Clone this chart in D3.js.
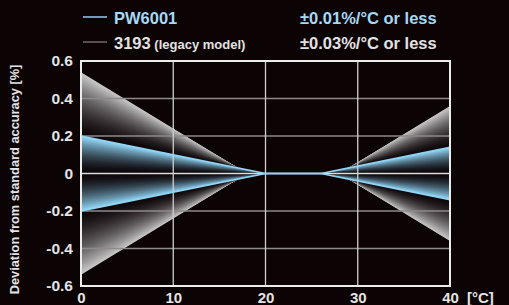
<!DOCTYPE html>
<html><head><meta charset="utf-8">
<script src="https://cdn.jsdelivr.net/npm/d3@7"></script>
<style>
html,body{margin:0;padding:0;background:#0c0305;}
svg{display:block;font-family:"Liberation Sans",Arial,sans-serif;font-weight:bold;}
</style></head>
<body>
<svg id="chart" width="509" height="305"></svg>
<script>
// ---- data ----
const xTicks = [0, 10, 20, 30, 40];
const yTicks = [-0.6, -0.4, -0.2, 0, 0.2, 0.4, 0.6];
const yTickLabels = ["-0.6", "-0.4", "-0.2", "0", "0.2", "0.4", "0.6"];
const temps = [0, 18, 20, 26, 28, 40];
const pw6001Dev = [0.20, 0.02, 0, 0, 0.02, 0.14];   // ±0.01%/°C
const legacyDev = [0.54, 0, 0, 0, 0, 0.36];          // ±0.03%/°C
const seriesNames = ["PW6001", "3193"];
const seriesNotes = ["±0.01%/°C or less", "±0.03%/°C or less"];

// ---- layout ----
const svg = d3.select("#chart");
const W = 509, H = 305;
const m = {left: 81, right: 450, top: 61, bottom: 286};
svg.append("rect").attr("width", W).attr("height", H).attr("fill", "#0c0305");

const x = d3.scaleLinear().domain([0, 40]).range([m.left, m.right]);
const y = d3.scaleLinear().domain([-0.6, 0.6]).range([m.bottom, m.top]);

const area = d3.area().x(d => x(d.t)).y0(d => y(-d.v)).y1(d => y(d.v));

const plot = svg.append("g");
// gray band (legacy), nested layers fading from outer edge to the PW6001 edge
const N = 48;
const grayCol = d3.interpolateRgb("#0e0709", "#c8c8c8");
for (let i = N; i >= 0; i--) {
  const k = i / N;
  const pts = temps.map((t, j) => ({t, v: pw6001Dev[j] + k * (legacyDev[j] - pw6001Dev[j])}));
  plot.append("path").datum(pts).attr("d", area)
    .attr("fill", grayCol(Math.pow(k, 1.5)));
}
// blue band (PW6001)
const blueCol = d3.interpolateRgb("#0c0508", "#92d8f8");
for (let i = N; i >= 0; i--) {
  const k = i / N;
  const pts = temps.map((t, j) => ({t, v: k * pw6001Dev[j]}));
  plot.append("path").datum(pts).attr("d", area)
    .attr("fill", blueCol(Math.pow(k, 1.6)));
}

// ---- grid ----
const grid = svg.append("g");
yTicks.filter(v => v !== 0 && Math.abs(v) < 0.6).forEach(v => {
  grid.append("line").attr("x1", m.left).attr("x2", m.right)
    .attr("y1", y(v)).attr("y2", y(v))
    .attr("stroke", "#8e8a8b").attr("stroke-width", 1.4);
});
grid.append("line").attr("x1", m.left).attr("x2", m.right)
  .attr("y1", y(0)).attr("y2", y(0))
  .attr("stroke", "#dcdcdc").attr("stroke-width", 1.4);
xTicks.filter(v => v > 0 && v < 40).forEach(v => {
  grid.append("line").attr("x1", x(v)).attr("x2", x(v))
    .attr("y1", m.top).attr("y2", m.bottom)
    .attr("stroke", "#cfcfcf").attr("stroke-width", 1.3);
});

// PW6001 edges
const line = d3.line().x(d => x(d.t)).y(d => y(d.v));
[1, -1].forEach(s => {
  svg.append("path").datum(temps.map((t, j) => ({t, v: s * pw6001Dev[j]})))
    .attr("d", line).attr("fill", "none")
    .attr("stroke", "#92d4f4").attr("stroke-width", 1.6);
});

// border
svg.append("rect").attr("x", m.left).attr("y", m.top)
  .attr("width", m.right - m.left).attr("height", m.bottom - m.top)
  .attr("fill", "none").attr("stroke", "#ececec").attr("stroke-width", 2);

// ---- axes labels ----
const txt = "#e4e4e4";
const yAxis = d3.axisLeft(y).tickValues(yTicks).tickSize(0).tickPadding(8)
  .tickFormat((d, i) => yTickLabels[i]);
const gy = svg.append("g").attr("transform", `translate(${m.left},0)`).call(yAxis);
gy.select(".domain").remove();
gy.selectAll("text").attr("fill", txt).style("font-size", "15.5px")
  .style("font-family", "'Liberation Sans',Arial,sans-serif").style("font-weight", "bold");

const xAxis = d3.axisBottom(x).tickValues(xTicks).tickSize(0).tickPadding(6)
  .tickFormat(d3.format("d"));
const gx = svg.append("g").attr("transform", `translate(0,${m.bottom})`).call(xAxis);
gx.select(".domain").remove();
gx.selectAll("text").attr("fill", txt).style("font-size", "15px")
  .style("font-family", "'Liberation Sans',Arial,sans-serif").style("font-weight", "bold");

svg.append("text").attr("x", 467).attr("y", 303).attr("fill", txt)
  .style("font-size", "15px").text("[°C]");

svg.append("text").attr("transform", `translate(19,${(m.top + m.bottom) / 2 + 6}) rotate(-90)`)
  .attr("text-anchor", "middle").attr("fill", txt).style("font-size", "12.8px")
  .text("Deviation from standard accuracy [%]");

// ---- legend ----
const legY = [17, 42];
const legColors = ["#8fd0f0", "#6e6a6b"];
const legText = ["#a6d9f5", "#e2e2e2"];
legY.forEach((ly, i) => {
  svg.append("line").attr("x1", 83).attr("x2", 107).attr("y1", ly).attr("y2", ly)
    .attr("stroke", legColors[i]).attr("stroke-width", 1.5);
  const t = svg.append("text").attr("x", 114).attr("y", ly + 6.5).attr("fill", legText[i])
    .style("font-size", "16.5px");
  t.append("tspan").text(seriesNames[i]);
  if (i === 1) t.append("tspan").style("font-size", "13px").text(" (legacy model)");
  svg.append("text").attr("x", 300).attr("y", ly + 6.5).attr("fill", legText[i])
    .style("font-size", "16.5px").text(seriesNotes[i]);
});
</script>
</body></html>
